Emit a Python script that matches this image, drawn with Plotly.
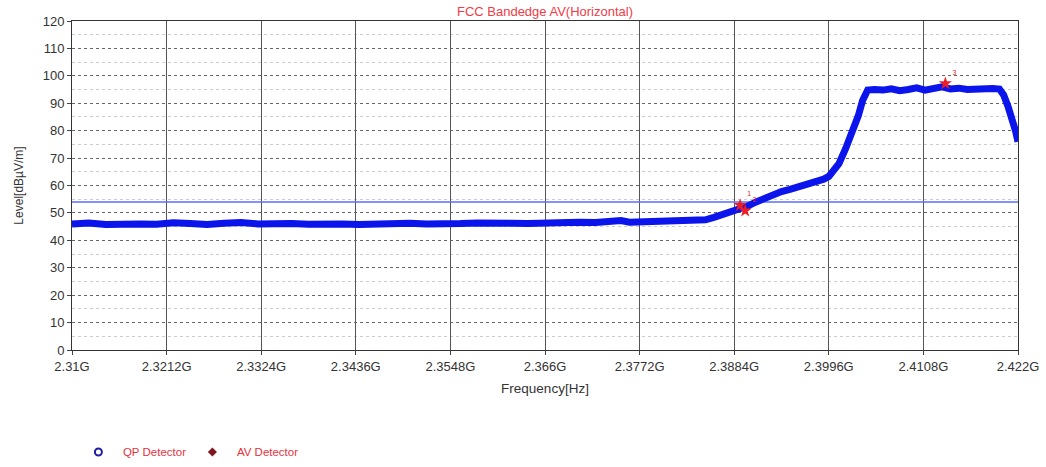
import plotly.graph_objects as go

# ---- data (GHz, dBuV/m) ----
freq_floor = [2.310, 2.312, 2.314, 2.316, 2.318, 2.320, 2.322, 2.324, 2.326, 2.328,
              2.330, 2.332, 2.334, 2.336, 2.338, 2.340, 2.342, 2.344, 2.346, 2.348,
              2.350, 2.352, 2.354, 2.356, 2.358, 2.360, 2.362, 2.364, 2.366, 2.368,
              2.370, 2.372, 2.374, 2.375, 2.376, 2.378, 2.380, 2.382]
level_floor = [46.0, 46.3, 45.8, 46.2, 46.0, 45.9, 46.4, 46.1, 45.8, 46.2,
               46.5, 46.0, 46.3, 46.1, 45.9, 46.2, 46.0, 45.8, 46.1, 45.9,
               46.2, 46.0, 45.8, 46.1, 46.3, 46.0, 46.2, 46.1, 46.4, 46.3,
               46.6, 46.5, 46.7, 47.2, 46.6, 46.8, 46.5, 46.7]
freq_rise = [2.3840, 2.3850, 2.3860, 2.3870, 2.3880, 2.3890, 2.3900, 2.3910, 2.3920,
             2.3930, 2.3940, 2.3950, 2.3960, 2.3970, 2.3980, 2.3990, 2.3996, 2.4002,
             2.4008, 2.4016, 2.4025, 2.4031, 2.4036, 2.4042]
level_rise = [47.0, 47.5, 48.4, 49.4, 50.4, 51.3, 52.5, 54.0, 55.5,
              56.8, 57.8, 58.6, 59.4, 60.3, 61.3, 62.3, 63.3, 65.2,
              68.0, 73.5, 80.0, 85.5, 91.0, 94.8]
freq_top = [2.4050, 2.4060, 2.4070, 2.4080, 2.4090, 2.4100, 2.4110, 2.4120, 2.4130,
            2.4140, 2.4150, 2.4160, 2.4170, 2.4180, 2.4190, 2.4198, 2.4203, 2.4208,
            2.4213, 2.4217, 2.4220]
level_top = [95.0, 94.8, 95.3, 94.6, 95.0, 95.6, 94.8, 95.3, 96.0,
             95.2, 95.5, 95.0, 95.3, 95.1, 95.4, 95.2, 93.0, 89.0,
             84.5, 80.0, 76.0]

limit_level = 54.0

av_freq = [2.3891, 2.3897, 2.4134]
av_level = [52.8, 50.8, 97.2]
av_labels = ["1", "2", "3"]

tick_vals = [2.31, 2.3212, 2.3324, 2.3436, 2.3548, 2.366, 2.3772, 2.3884, 2.3996, 2.4108, 2.422]
tick_text = ["2.31G", "2.3212G", "2.3324G", "2.3436G", "2.3548G", "2.366G", "2.3772G",
             "2.3884G", "2.3996G", "2.4108G", "2.422G"]

freq = freq_floor + freq_rise + freq_top
level = level_floor + level_rise + level_top

fig = go.Figure()

fig.add_trace(go.Scatter(x=[tick_vals[0], tick_vals[-1]], y=[limit_level, limit_level],
                         mode="lines", line=dict(color="rgb(90,110,255)", width=1.5),
                         showlegend=False, hoverinfo="skip"))

fig.add_trace(go.Scatter(x=freq, y=level, mode="lines",
                         line=dict(color="rgb(10,20,235)", width=7),
                         showlegend=False))

fig.add_trace(go.Scatter(x=av_freq, y=av_level, mode="markers+text",
                         marker=dict(symbol="star", color="rgb(235,30,40)", size=10),
                         text=av_labels, textposition="top right",
                         textfont=dict(size=7, color="rgb(235,30,40)"),
                         showlegend=False))

# legend entries
fig.add_trace(go.Scatter(x=[None], y=[None], mode="markers", name="QP Detector",
                         marker=dict(symbol="circle-open", color="rgb(30,30,160)", size=7,
                                     line=dict(width=2))))
fig.add_trace(go.Scatter(x=[None], y=[None], mode="markers", name="AV Detector",
                         marker=dict(symbol="diamond", color="rgb(130,20,30)", size=7)))

fig.update_layout(
    width=1046, height=467,
    margin=dict(l=72, r=28, t=21, b=117, autoexpand=False),
    paper_bgcolor="white", plot_bgcolor="white",
    font=dict(family="Liberation Sans, Arial", size=11, color="#333"),
    title=dict(text="FCC Bandedge AV(Horizontal)", x=0.5, xref="paper", xanchor="center",
               y=0.976, yanchor="middle", font=dict(size=13, color="rgb(240,60,70)")),
    legend=dict(orientation="h", x=0.002, xanchor="left", y=-0.31, yanchor="middle",
                font=dict(size=11.5, color="rgb(230,50,60)"), itemwidth=39,
                entrywidth=60, entrywidthmode="pixels",
                bgcolor="rgba(0,0,0,0)"),
    xaxis=dict(range=[tick_vals[0], tick_vals[-1]], tickvals=tick_vals, ticktext=tick_text,
               automargin=False,
               showgrid=True, gridcolor="#555", gridwidth=1, ticks="outside", ticklen=4,
               tickcolor="#444", showline=True, linecolor="#333", linewidth=1, mirror=True,
               zeroline=False, tickfont=dict(size=13, color="#333"),
               title=dict(text="Frequency[Hz]", font=dict(size=13.5, color="#333"), standoff=10)),
    yaxis=dict(range=[0, 120], dtick=10, showgrid=True, gridcolor="#666", griddash="dot",
               automargin=False,
               gridwidth=1, ticks="outside", ticklen=4, tickcolor="#444",
               showline=True, linecolor="#333", linewidth=1, mirror=True, zeroline=False,
               tickfont=dict(size=13, color="#333"),
               minor=dict(dtick=5, showgrid=True, gridcolor="#ccc", griddash="dot"),
               title=dict(text="Level[dBµV/m]", font=dict(size=12, color="#333"), standoff=16)),
)

fig.write_html("out.html", config={"displayModeBar": False},
               post_script="document.body.style.margin='0';document.body.style.overflow='hidden';")
